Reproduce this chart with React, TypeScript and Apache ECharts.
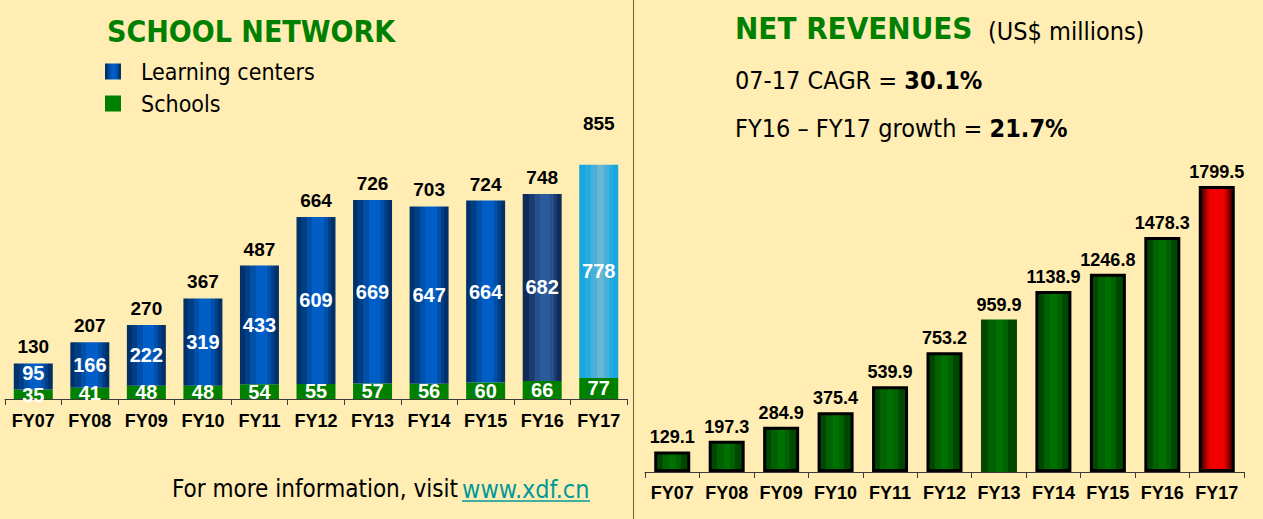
import React, { useEffect, useRef } from "react";
import * as echarts from "echarts";

const categories = ["FY07", "FY08", "FY09", "FY10", "FY11", "FY12", "FY13", "FY14", "FY15", "FY16", "FY17"];
const schools = [35, 41, 48, 48, 54, 55, 57, 56, 60, 66, 77];
const learningCenters = [95, 166, 222, 319, 433, 609, 669, 647, 664, 682, 778];
const totals = [130, 207, 270, 367, 487, 664, 726, 703, 724, 748, 855];
const revenues = [129.1, 197.3, 284.9, 375.4, 539.9, 753.2, 959.9, 1138.9, 1246.8, 1478.3, 1799.5];

const TAHOMA = '"DejaVu Sans Condensed", "DejaVu Sans", sans-serif';
const ARIAL = '"Liberation Sans", Arial, sans-serif';

export default function App() {
  const ref = useRef<HTMLDivElement>(null);
  useEffect(() => {
    if (!ref.current) return;
    const chart = echarts.init(ref.current, null, { renderer: "svg" });
    const grad = (stops: [number, string][]) =>
      new echarts.graphic.LinearGradient(0, 0, 1, 0, stops.map(([offset, color]) => ({ offset, color })));

    const blue = grad([
      [0, "#00316a"], [0.12, "#00316a"], [0.13, "#003f86"], [0.26, "#003f86"], [0.27, "#0050aa"],
      [0.4, "#0050aa"], [0.41, "#005ec6"], [0.7, "#005ec6"], [0.71, "#0050aa"], [0.8, "#0050aa"],
      [0.81, "#003f86"], [0.88, "#003f86"], [0.89, "#00316a"], [1, "#00316a"],
    ]);
    const slate = grad([
      [0, "#112b58"], [0.15, "#112b58"], [0.16, "#1a3b6e"], [0.3, "#1a3b6e"], [0.31, "#25508c"],
      [0.45, "#25508c"], [0.46, "#2c5b9c"], [0.7, "#2c5b9c"], [0.71, "#25508c"], [0.8, "#25508c"],
      [0.81, "#1a3b6e"], [0.88, "#1a3b6e"], [0.89, "#112b58"], [1, "#112b58"],
    ]);
    const cyan = grad([
      [0, "#18a6de"], [0.15, "#18a6de"], [0.16, "#28aade"], [0.3, "#28aade"], [0.31, "#48b0d8"],
      [0.45, "#48b0d8"], [0.46, "#68b6d0"], [0.62, "#68b6d0"], [0.63, "#48b0d8"], [0.75, "#48b0d8"],
      [0.76, "#28aade"], [0.87, "#28aade"], [0.88, "#18a6de"], [1, "#18a6de"],
    ]);
    const green = grad([
      [0, "#004800"], [0.2, "#004800"], [0.21, "#006200"], [0.4, "#006200"], [0.41, "#007000"],
      [0.6, "#007000"], [0.61, "#006200"], [0.75, "#006200"], [0.76, "#004800"], [1, "#004800"],
    ]);
    const red = grad([
      [0, "#3a0000"], [0.1, "#700000"], [0.2, "#c00000"], [0.3, "#f00000"], [0.7, "#f00000"],
      [0.8, "#c00000"], [0.9, "#700000"], [1, "#3a0000"],
    ]);

    const lcData = learningCenters.map((v, i) => {
      if (i === 0) return { value: v, label: { offset: [0, -3] } };
      if (i === 9) return { value: v, itemStyle: { color: slate } };
      if (i === 10) return { value: v, itemStyle: { color: cyan } };
      return v;
    });
    const schoolData = schools.map((v, i) => (i === 0 ? { value: v, label: { offset: [0, 1] } } : v));
    const totalData = totals.map((v, i) => (i === 10 ? { value: v, label: { distance: 32 } } : v));
    const revData = revenues.map((v, i) => {
      if (i === 6) return { value: v, itemStyle: { borderWidth: 0 } };
      if (i === 10) return { value: v, itemStyle: { color: red } };
      return v;
    });

    const axisCommon = {
      type: "category" as const,
      data: categories,
      axisLine: { lineStyle: { color: "#3a3a3a", width: 1 } },
      axisTick: { show: true, length: 6, lineStyle: { color: "#3a3a3a" } },
      axisLabel: {
        color: "#000",
        fontFamily: ARIAL,
        fontWeight: "bold" as const,
        fontSize: 18,
        margin: 13,
        interval: 0,
      },
    };

    const innerLabel = {
      show: true,
      position: "inside" as const,
      color: "#fff",
      fontFamily: ARIAL,
      fontWeight: "bold" as const,
      fontSize: 20,
    };

    chart.setOption({
      animation: false,
      backgroundColor: "#FFEDB3",
      legend: {
        left: 105,
        top: 60,
        padding: 0,
        orient: "vertical",
        itemWidth: 16,
        itemHeight: 16,
        itemGap: 9,
        icon: "rect",
        data: ["Learning centers", "Schools"],
        textStyle: { color: "#000", fontFamily: TAHOMA, fontSize: 23, lineHeight: 23, padding: [0, 0, 0, 15] },
        selectedMode: false,
      },
      grid: [
        { left: 5, width: 622, top: 125, height: 274 },
        { left: 645, width: 599, top: 154, height: 318 },
      ],
      xAxis: [
        { ...axisCommon, gridIndex: 0 },
        { ...axisCommon, gridIndex: 1, axisLabel: { ...axisCommon.axisLabel, margin: 12 } },
      ],
      yAxis: [
        { type: "value", gridIndex: 0, min: 0, max: 1000, show: false },
        { type: "value", gridIndex: 1, min: 0, max: 2000, show: false },
      ],
      series: [
        {
          name: "Schools",
          type: "bar",
          stack: "net",
          xAxisIndex: 0,
          yAxisIndex: 0,
          barWidth: 39,
          data: schoolData,
          itemStyle: { color: "#008000" },
          label: innerLabel,
        },
        {
          name: "Learning centers",
          type: "bar",
          stack: "net",
          xAxisIndex: 0,
          yAxisIndex: 0,
          barWidth: 39,
          data: lcData,
          itemStyle: { color: blue },
          label: innerLabel,
        },
        {
          name: "Total",
          type: "scatter",
          xAxisIndex: 0,
          yAxisIndex: 0,
          symbolSize: 0,
          itemStyle: { color: "transparent", opacity: 1 },
          data: totalData,
          z: 5,
          label: {
            show: true,
            position: "top",
            distance: 7,
            color: "#000",
            opacity: 1,
            fontFamily: ARIAL,
            fontWeight: "bold",
            fontSize: 19,
          },
        },
        {
          name: "Net revenues",
          type: "bar",
          xAxisIndex: 1,
          yAxisIndex: 1,
          barWidth: 36,
          data: revData,
          itemStyle: { color: green, borderColor: "#000", borderWidth: 3 },
          label: {
            show: true,
            position: "top",
            distance: 5,
            color: "#000",
            fontFamily: ARIAL,
            fontWeight: "bold",
            fontSize: 18,
          },
        },
      ],
      graphic: [
        { type: "line", shape: { x1: 633.5, y1: 0, x2: 633.5, y2: 519 }, style: { stroke: "#6a6040", lineWidth: 1 } },
        {
          type: "text", x: 107, y: 31,
          style: { text: "SCHOOL NETWORK", fill: "#008000", font: `bold 30px ${TAHOMA}`, verticalAlign: "middle" },
        },
        {
          type: "text", x: 735, y: 28,
          style: { text: "NET REVENUES", fill: "#008000", font: `bold 31px ${TAHOMA}`, verticalAlign: "middle" },
        },
        {
          type: "text", x: 988, y: 31,
          style: { text: "(US$ millions)", fill: "#000", font: `25px ${TAHOMA}`, verticalAlign: "middle" },
        },
        {
          type: "text", x: 735, y: 80,
          style: {
            text: "{r|07-17 CAGR = }{b|30.1%}",
            verticalAlign: "middle",
            rich: {
              r: { fill: "#000", fontSize: 25, fontFamily: TAHOMA },
              b: { fill: "#000", fontSize: 25, fontFamily: TAHOMA, fontWeight: "bold" },
            },
          },
        },
        {
          type: "text", x: 735, y: 128,
          style: {
            text: "{r|FY16 \u2013 FY17 growth = }{b|21.7%}",
            verticalAlign: "middle",
            rich: {
              r: { fill: "#000", fontSize: 25, fontFamily: TAHOMA },
              b: { fill: "#000", fontSize: 25, fontFamily: TAHOMA, fontWeight: "bold" },
            },
          },
        },
        {
          type: "text", x: 172, y: 489,
          style: { text: "For more information, visit", fill: "#000", font: `24px ${TAHOMA}`, verticalAlign: "middle" },
        },
        {
          type: "text", x: 462, y: 489,
          style: { text: "www.xdf.cn", fill: "#00999a", font: `25px ${TAHOMA}`, verticalAlign: "middle" },
        },
        { type: "line", shape: { x1: 462, y1: 501, x2: 590, y2: 501 }, style: { stroke: "#00999a", lineWidth: 1.5 } },
      ],
    });
    return () => chart.dispose();
  }, []);

  return (
    <div
      ref={ref}
      style={{ position: "fixed", left: 0, top: 0, width: 1263, height: 519, background: "#FFEDB3" }}
    />
  );
}
